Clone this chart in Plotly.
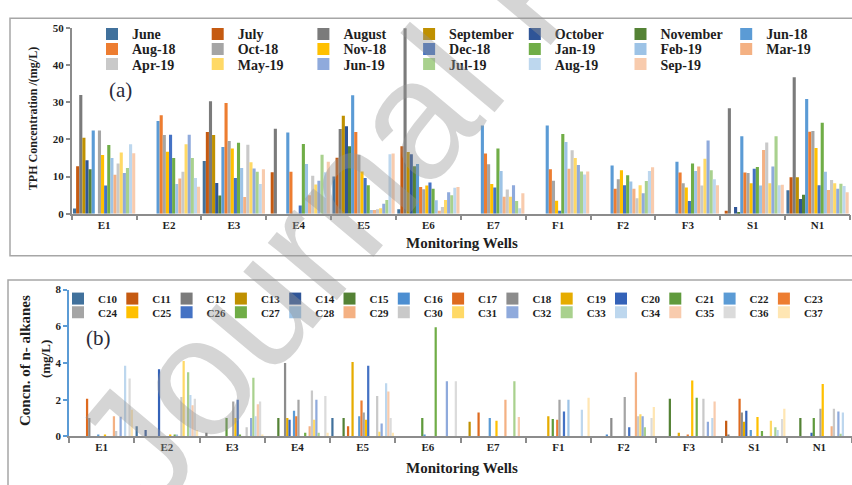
import plotly.graph_objects as go

W, H = 852, 485
SERIF = "Liberation Serif"


def px(x):
    return x / W


def py(y):
    return 1 - y / H


# ---------------- Panel (a): TPH concentration (mg/L) ----------------
wells = ["E1", "E2", "E3", "E4", "E5", "E6", "E7", "F1", "F2", "F3", "S1", "N1"]

june = [1.4, 0, 14.2, 0, 10.0, 1.2, 0, 0, 0, 0, 0, 6.3]
july = [12.8, 0, 22.0, 11.2, 15.1, 18.2, 0, 0, 0, 0, 0.8, 9.8]
august = [32.0, 0, 30.3, 22.9, 22.8, 55.0, 0, 0, 0, 0, 28.4, 36.8]
september = [20.5, 0, 21.2, 0, 26.4, 16.6, 0, 0, 0, 0, 0, 9.8]
october = [14.4, 0, 8.3, 0, 23.6, 16.0, 0, 0, 0, 0, 1.8, 4.0]
november = [12.0, 0, 4.9, 0, 18.2, 12.8, 0, 0, 0, 0, 0.5, 5.1]
jun_18 = [22.4, 25.0, 18.0, 21.9, 31.9, 13.4, 23.8, 23.8, 13.0, 14.0, 20.9, 30.9]
aug_18 = [0, 26.5, 29.8, 11.3, 22.0, 7.2, 16.2, 12.0, 6.7, 11.1, 11.1, 22.1]
oct_18 = [22.4, 21.2, 19.6, 0, 15.9, 6.6, 13.3, 8.9, 9.3, 8.2, 11.0, 22.3]
nov_18 = [15.8, 16.7, 17.6, 0, 11.4, 7.6, 8.0, 3.5, 11.7, 7.1, 8.2, 17.7]
dec_18 = [7.6, 21.3, 9.6, 2.2, 9.6, 8.4, 7.1, 0.8, 7.7, 3.4, 12.1, 7.7]
jan_19 = [18.5, 15.0, 19.1, 18.8, 7.7, 6.7, 17.6, 21.5, 10.4, 13.5, 12.6, 24.5]
feb_19 = [15.0, 8.0, 12.3, 13.4, 1.0, 3.6, 11.5, 19.3, 8.7, 11.5, 7.6, 11.3]
mar_19 = [10.5, 9.5, 4.5, 5.0, 1.0, 0.8, 4.6, 12.1, 6.7, 12.7, 17.2, 6.4]
apr_19 = [13.5, 11.3, 18.6, 10.2, 1.2, 1.8, 6.5, 17.1, 4.2, 7.6, 19.2, 9.1]
may_19 = [16.5, 18.7, 13.9, 7.9, 1.5, 3.7, 4.6, 15.0, 7.7, 14.8, 8.2, 8.2]
jun_19 = [11.0, 21.3, 12.2, 8.9, 2.7, 5.8, 7.7, 13.1, 5.5, 19.7, 12.7, 6.7]
jul_19 = [12.3, 15.0, 11.3, 15.9, 3.7, 5.0, 3.4, 11.4, 8.8, 11.7, 20.9, 8.1]
aug_19 = [18.7, 9.6, 8.0, 11.2, 16.0, 7.0, 1.5, 10.6, 11.5, 9.3, 7.7, 7.5]
sep_19 = [16.3, 7.3, 12.0, 14.0, 16.2, 7.2, 5.5, 11.4, 12.5, 7.7, 7.8, 5.8]

tph_names = ["June", "July", "August", "September", "October", "November", "Jun-18",
             "Aug-18", "Oct-18", "Nov-18", "Dec-18", "Jan-19", "Feb-19", "Mar-19",
             "Apr-19", "May-19", "Jun-19", "Jul-19", "Aug-19", "Sep-19"]
tph_values = [june, july, august, september, october, november, jun_18,
              aug_18, oct_18, nov_18, dec_18, jan_19, feb_19, mar_19,
              apr_19, may_19, jun_19, jul_19, aug_19, sep_19]
tph_colors = ["#41719C", "#C55A11", "#7B7B7B", "#BF9000", "#2F5597", "#548235", "#5B9BD5",
              "#ED7D31", "#A5A5A5", "#FFC000", "#4472C4", "#70AD47", "#9DC3E6", "#F4B183",
              "#C9C9C9", "#FFD966", "#8FAADC", "#A9D18E", "#BDD7EE", "#F8CBAD"]

# ---------------- Panel (b): n-alkanes (mg/L) ----------------
c10 = [0, 0.55, 0, 0, 1.0, 0, 0, 0, 0, 0, 0, 0]
c11 = [0, 0, 0, 0, 0, 0, 0, 0, 0, 0, 0.85, 0]
c12 = [0, 0, 0.2, 0, 0, 0, 0, 0, 0, 0, 0.1, 0]
c13 = [0, 0, 0, 0, 0, 0, 0.8, 0, 0, 0, 0, 0]
c14 = [0, 0.35, 0, 0, 0, 0, 0, 0, 0, 0, 0, 0]
c15 = [0, 0, 0, 1.0, 1.0, 0, 0, 0, 0, 2.05, 0, 1.0]
c16 = [0, 0, 0, 0, 0, 0, 0, 0, 0.1, 0, 0, 0]
c17 = [2.05, 0, 0, 0, 0.55, 0, 1.3, 0, 0, 0, 2.05, 0]
c18 = [1.0, 0, 0, 4.0, 0, 0, 0, 0, 1.0, 0, 1.3, 0]
c19 = [0, 0, 0, 1.0, 4.05, 0, 0, 1.1, 0, 0.2, 0.8, 0]
c20 = [0, 3.65, 0, 0.9, 0, 0, 0, 0, 0, 0, 1.4, 0.2]
c21 = [0, 0, 1.0, 0, 0, 1.0, 0, 0.95, 0, 0, 0, 1.0]
c22 = [0.1, 0, 0, 1.4, 1.1, 0.1, 1.0, 0, 0, 0, 0.35, 0]
c23 = [0, 0, 0, 1.1, 1.95, 0, 0, 0.9, 0, 0.05, 0, 0]
c24 = [0, 0, 1.9, 2.0, 1.3, 0, 0, 2.0, 2.15, 0, 0, 1.5]
c25 = [0.08, 0.08, 1.0, 0, 0.9, 0, 0.85, 0, 0, 3.05, 1.05, 2.85]
c26 = [0, 0, 2.0, 0, 3.85, 0, 0, 1.35, 0.5, 0, 0, 0]
c27 = [0, 0.1, 0.08, 0.2, 0, 5.95, 0, 0, 0, 2.1, 0.3, 0]
c28 = [0, 0.1, 0, 0, 0, 0, 0, 2.0, 0, 0, 0, 0]
c29 = [1.1, 0, 0, 0.55, 0, 0, 2.0, 0, 3.5, 0, 0, 0.55]
c30 = [0.3, 2.15, 0.5, 2.5, 2.2, 0, 0, 0, 1.1, 2.05, 0, 1.5]
c31 = [0, 4.1, 0, 0.9, 0.25, 0, 0, 0, 1.2, 0, 0.85, 0]
c32 = [1.07, 0, 1.0, 2.0, 0.7, 3.0, 0, 0, 1.1, 0.8, 0, 1.35]
c33 = [0, 3.5, 3.2, 0.2, 0, 0, 3.0, 0, 0.5, 0, 0.5, 0.15]
c34 = [3.85, 2.25, 1.1, 0, 2.9, 0, 0, 1.45, 0, 1.0, 0.35, 1.3]
c35 = [0, 1.7, 1.75, 0, 2.45, 0, 1.05, 0, 0, 1.9, 0, 0]
c36 = [3.15, 2.05, 1.9, 2.2, 1.0, 3.0, 0, 0, 1.0, 0, 0.95, 0]
c37 = [1.45, 0.35, 0.1, 0.2, 0.2, 0, 0, 2.1, 1.6, 0, 1.5, 0]

alk_names = ["C%d" % n for n in range(10, 38)]
alk_values = [c10, c11, c12, c13, c14, c15, c16, c17, c18, c19, c20, c21, c22, c23,
              c24, c25, c26, c27, c28, c29, c30, c31, c32, c33, c34, c35, c36, c37]
alk_colors = ["#41719C", "#C55A11", "#7B7B7B", "#BF9000", "#2F5597", "#548235",
              "#4C8ED1", "#DE6A1F", "#8C8C8C", "#E6AC00", "#3462B8", "#5F9A3C",
              "#5B9BD5", "#ED7D31", "#A5A5A5", "#FFC000", "#4472C4", "#70AD47",
              "#9DC3E6", "#F4B183", "#C9C9C9", "#FFD966", "#8FAADC", "#A9D18E",
              "#BDD7EE", "#F8CBAD", "#DBDBDB", "#FFE6B3"]

fig = go.Figure()

for i, (name, vals, col) in enumerate(zip(tph_names, tph_values, tph_colors)):
    leg = "legend" if i < 7 else ("legend2" if i < 14 else "legend3")
    fig.add_trace(go.Bar(x=wells, y=vals, name=name, xaxis="x", yaxis="y",
                         marker=dict(color=col, line=dict(width=0)), legend=leg))

for i, (name, vals, col) in enumerate(zip(alk_names, alk_values, alk_colors)):
    leg = "legend4" if i < 14 else "legend5"
    extra = {}
    if i in (13, 27):  # last entry of each legend row needs room for its label
        extra["legendwidth"] = 30
    fig.add_trace(go.Bar(x=wells, y=vals, name=name, xaxis="x2", yaxis="y2",
                         marker=dict(color=col, line=dict(width=0)), legend=leg, **extra))

TXT = "#1e1e1e"
GRID = "#8C8C8C"


def legend_box(x_px, y_px, size, ew):
    return dict(x=px(x_px), y=py(y_px), xanchor="left", yanchor="middle",
                orientation="h", entrywidth=ew, entrywidthmode="pixels",
                font=dict(family=SERIF, size=size, color=TXT, weight="bold"),
                bgcolor="rgba(0,0,0,0)", borderwidth=0, itemwidth=30)


tick_font = dict(family=SERIF, size=11, color=TXT, weight="bold")

fig.update_layout(
    width=W, height=H,
    margin=dict(l=0, r=0, t=0, b=0),
    paper_bgcolor="white", plot_bgcolor="rgba(0,0,0,0)",
    barmode="group", bargap=0.04, bargroupgap=0,
    showlegend=True,
    xaxis=dict(domain=[px(71.7), px(850)], anchor="y", type="category",
               showline=True, linecolor=GRID, linewidth=1.5, ticks="outside",
               tickson="boundaries", ticklen=5, tickcolor=GRID, tickwidth=1.5,
               tickfont=tick_font, showgrid=False, zeroline=False, fixedrange=True),
    yaxis=dict(domain=[py(213), py(22.7)], anchor="x", range=[0, 50], dtick=10,
               showline=True, linecolor=GRID, linewidth=1.5, ticks="outside",
               ticklen=4, tickcolor=GRID, tickwidth=1.5, tickfont=tick_font,
               showgrid=False, zeroline=False, fixedrange=True),
    xaxis2=dict(domain=[px(69), px(852)], anchor="y2", type="category",
                showline=True, linecolor=GRID, linewidth=1.5, ticks="outside",
                tickson="boundaries", ticklen=5, tickcolor=GRID, tickwidth=1.5,
                tickfont=tick_font, showgrid=False, zeroline=False, fixedrange=True),
    yaxis2=dict(domain=[py(441.3), py(290.7)], anchor="x2", range=[0, 8], dtick=2,
                showline=True, linecolor="#5B9BD5", linewidth=1.5, ticks="outside",
                ticklen=4, tickcolor="#5B9BD5", tickwidth=1.5, tickfont=tick_font,
                showgrid=False, zeroline=False, fixedrange=True),
    legend=legend_box(92, 29, 14, 60.7),
    legend2=legend_box(92, 44.5, 14, 60.7),
    legend3=legend_box(92, 60, 14, 60.7),
    legend4=legend_box(58, 300, 11, 9.3),
    legend5=legend_box(58, 314, 11, 9.3),
)

# panel frames
fig.add_shape(type="rect", xref="paper", yref="paper",
              x0=px(10), x1=px(870), y0=py(256), y1=py(12.5),
              line=dict(color="#A6A6A6", width=1.5), fillcolor="rgba(0,0,0,0)", layer="below")
fig.add_shape(type="rect", xref="paper", yref="paper",
              x0=px(8), x1=px(870), y0=py(500), y1=py(281),
              line=dict(color="#A6A6A6", width=1.5), fillcolor="rgba(0,0,0,0)", layer="below")

title_font = dict(family=SERIF, size=15, color=TXT, weight="bold")
ann = [
    dict(text="(a)", x=px(120), y=py(86), font=dict(family=SERIF, size=21, color="#2a2a3a")),
    dict(text="(b)", x=px(98), y=py(340), font=dict(family=SERIF, size=21, color="#2a2a3a")),
    dict(text="Monitoring Wells", x=px(462), y=py(243), font=title_font),
    dict(text="Monitoring Wells", x=px(462), y=py(474), font=title_font),
    dict(text="TPH Concentration /(mg/L)", x=px(33), y=py(116), textangle=-90,
         font=dict(family=SERIF, size=12, color=TXT, weight="bold")),
    dict(text="Concn. of n- alkanes", x=px(25), y=py(364), textangle=-90,
         font=dict(family=SERIF, size=15, color=TXT, weight="bold")),
    dict(text="(mg/L)", x=px(45), y=py(362), textangle=-90,
         font=dict(family=SERIF, size=13, color=TXT, weight="bold")),
    dict(text="Journal Pre-proof", x=px(530), y=py(-29), textangle=-50,
         font=dict(family="Liberation Sans", size=170, color="rgba(150,150,150,0.4)")),
]
for a in ann:
    a.update(xref="paper", yref="paper", showarrow=False, xanchor="center", yanchor="middle")
    fig.add_annotation(**a)

fig.write_html("out.html", config={"displayModeBar": False},
               post_script="document.body.style.margin='0';document.body.style.overflow='hidden';")
